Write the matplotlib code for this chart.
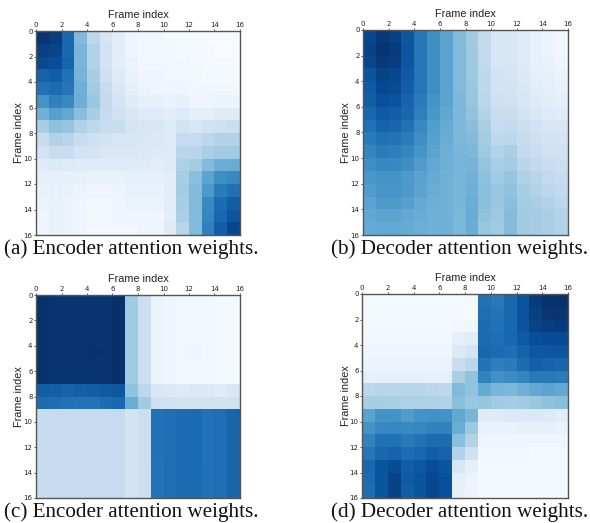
import numpy as np
import matplotlib
matplotlib.use("Agg")
import matplotlib.pyplot as plt
from matplotlib.colors import PowerNorm

W, H = 590, 523

# attention weights, in percent of the colour scale
enc_a = [
    [98, 94, 76, 40, 24, 14, 8, 3, 2, 2, 1, 1, 1, 0, 0, 0],
    [93, 91, 76, 42, 27, 15, 8, 3, 2, 2, 2, 1, 1, 1, 0, 0],
    [89, 87, 77, 42, 27, 15, 8, 4, 2, 2, 2, 2, 1, 1, 1, 1],
    [78, 80, 72, 43, 30, 17, 10, 5, 3, 3, 2, 2, 2, 1, 1, 1],
    [72, 75, 70, 45, 32, 20, 12, 7, 4, 3, 3, 3, 2, 2, 2, 2],
    [58, 66, 62, 45, 34, 22, 14, 9, 7, 6, 5, 6, 3, 3, 4, 4],
    [44, 52, 48, 38, 30, 21, 16, 12, 10, 9, 8, 10, 7, 7, 9, 9],
    [30, 37, 35, 27, 23, 19, 19, 14, 13, 12, 10, 15, 13, 16, 17, 18],
    [20, 27, 25, 19, 17, 15, 13, 13, 12, 11, 10, 21, 21, 24, 27, 27],
    [15, 20, 19, 15, 14, 12, 12, 12, 11, 10, 10, 25, 25, 29, 32, 32],
    [9, 11, 10, 9, 9, 9, 9, 9, 9, 8, 9, 28, 31, 40, 46, 46],
    [6, 7, 6, 6, 5, 5, 5, 6, 6, 6, 8, 30, 38, 50, 60, 62],
    [5, 6, 5, 4, 3, 3, 4, 5, 5, 5, 8, 31, 40, 55, 68, 72],
    [4, 5, 4, 3, 2, 2, 3, 4, 4, 4, 8, 30, 40, 62, 74, 80],
    [3, 5, 4, 3, 2, 2, 3, 3, 3, 3, 8, 29, 40, 64, 76, 84],
    [3, 5, 4, 3, 2, 2, 2, 2, 3, 3, 9, 25, 40, 66, 80, 90],
]
dec_b = [
    [90, 96, 93, 83, 70, 60, 50, 40, 32, 22, 13, 13, 10, 6, 4, 2],
    [92, 98, 95, 84, 70, 60, 50, 40, 33, 22, 13, 13, 10, 6, 4, 2],
    [90, 96, 94, 83, 70, 60, 50, 40, 33, 22, 13, 13, 10, 6, 5, 3],
    [84, 92, 90, 82, 70, 60, 50, 40, 33, 23, 15, 14, 11, 7, 6, 4],
    [82, 90, 88, 80, 70, 60, 50, 40, 34, 23, 15, 15, 12, 8, 7, 5],
    [80, 86, 85, 78, 68, 58, 50, 41, 35, 24, 17, 16, 13, 10, 8, 7],
    [76, 82, 80, 76, 66, 56, 49, 41, 36, 26, 19, 19, 15, 12, 10, 9],
    [72, 78, 77, 72, 62, 53, 47, 41, 38, 29, 21, 22, 18, 15, 13, 12],
    [68, 72, 71, 68, 60, 52, 46, 41, 40, 31, 23, 24, 20, 17, 15, 14],
    [64, 68, 67, 64, 57, 50, 45, 42, 41, 33, 26, 29, 22, 19, 17, 16],
    [60, 63, 62, 60, 54, 48, 45, 42, 43, 35, 29, 31, 25, 22, 19, 18],
    [56, 58, 58, 55, 51, 47, 44, 42, 44, 37, 32, 35, 28, 25, 22, 20],
    [54, 57, 57, 55, 50, 46, 44, 42, 45, 38, 34, 36, 30, 27, 24, 22],
    [50, 55, 55, 52, 47, 45, 44, 42, 46, 38, 34, 38, 31, 29, 27, 24],
    [48, 50, 50, 48, 46, 44, 44, 41, 46, 36, 33, 39, 32, 31, 29, 26],
    [47, 48, 48, 47, 45, 44, 44, 41, 46, 34, 32, 39, 32, 31, 29, 27],
]
enc_c = [
    [99, 98, 98, 98, 98, 98, 100, 32, 18, 4, 3, 2, 2, 2, 1, 1],
    [99, 98, 98, 98, 98, 98, 100, 32, 18, 4, 3, 2, 2, 2, 1, 1],
    [99, 98, 98, 98, 98, 98, 100, 32, 18, 4, 3, 2, 2, 2, 1, 1],
    [99, 98, 98, 98, 98, 98, 100, 32, 18, 4, 3, 2, 2, 2, 1, 1],
    [99, 98, 98, 98, 99, 98, 100, 32, 18, 4, 3, 2, 3, 2, 1, 1],
    [99, 98, 98, 98, 98, 98, 100, 32, 18, 4, 3, 2, 2, 2, 1, 1],
    [99, 98, 98, 98, 98, 98, 100, 32, 18, 4, 3, 2, 2, 2, 1, 1],
    [80, 79, 78, 79, 80, 82, 83, 36, 24, 12, 11, 10, 11, 11, 10, 12],
    [74, 73, 72, 71, 71, 74, 76, 46, 32, 17, 16, 15, 15, 16, 16, 16],
    [20, 21, 21, 21, 21, 21, 21, 15, 18, 72, 73, 74, 75, 72, 73, 77],
    [20, 21, 21, 21, 21, 21, 21, 15, 18, 72, 73, 74, 75, 72, 73, 77],
    [20, 21, 21, 21, 21, 21, 21, 15, 18, 72, 73, 74, 75, 72, 73, 77],
    [20, 21, 21, 21, 21, 21, 21, 15, 18, 72, 73, 74, 75, 72, 73, 77],
    [20, 21, 21, 21, 21, 21, 21, 15, 18, 71, 73, 74, 74, 72, 73, 77],
    [20, 21, 21, 21, 21, 21, 21, 15, 18, 71, 73, 74, 74, 72, 73, 77],
    [20, 21, 21, 21, 21, 21, 21, 15, 18, 71, 73, 74, 74, 72, 73, 77],
]
dec_d = [
    [1, 1, 1, 1, 1, 1, 1, 1, 1, 72, 69, 76, 84, 95, 99, 100],
    [1, 1, 1, 1, 1, 1, 1, 1, 1, 73, 71, 76, 84, 93, 97, 98],
    [1, 1, 1, 1, 1, 1, 1, 2, 2, 74, 72, 76, 84, 92, 94, 95],
    [2, 2, 2, 2, 2, 2, 2, 6, 8, 75, 73, 76, 82, 87, 88, 88],
    [3, 3, 3, 3, 3, 3, 3, 11, 14, 76, 75, 73, 78, 83, 83, 84],
    [4, 4, 4, 4, 4, 4, 4, 19, 24, 71, 67, 68, 74, 79, 78, 77],
    [7, 7, 7, 7, 7, 7, 7, 30, 36, 65, 59, 61, 64, 69, 69, 68],
    [24, 25, 25, 25, 25, 24, 23, 40, 36, 47, 42, 41, 44, 48, 50, 48],
    [30, 30, 29, 28, 28, 28, 27, 38, 34, 35, 32, 31, 32, 34, 37, 38],
    [50, 58, 58, 54, 58, 59, 58, 48, 42, 9, 9, 11, 11, 11, 10, 8],
    [58, 62, 63, 62, 63, 65, 65, 46, 33, 5, 5, 5, 6, 6, 6, 5],
    [65, 72, 72, 69, 71, 74, 74, 38, 27, 3, 3, 3, 3, 3, 3, 3],
    [70, 76, 78, 74, 76, 80, 78, 27, 17, 2, 2, 2, 2, 1, 1, 1],
    [76, 84, 88, 80, 83, 88, 84, 13, 7, 1, 1, 1, 1, 1, 1, 1],
    [75, 84, 92, 82, 84, 90, 86, 7, 4, 1, 1, 1, 1, 1, 1, 1],
    [74, 84, 92, 80, 84, 90, 86, 6, 4, 1, 1, 1, 1, 1, 1, 1],
]

captions = ["(a) Encoder attention weights.", "(b) Decoder attention weights.",
            "(c) Encoder attention weights.", "(d) Decoder attention weights."]
ticks = list(range(0, 17, 2))

# left, right, top, bottom in pixels of the image
boxes = [(36, 240, 31, 235), (363, 568, 30, 235), (36, 240, 295, 498), (362, 568, 294, 498)]
cap_pos = [(4, 249), (331, 249), (4, 512), (331, 512)]
ylabel_x = [23.5, 351, 23.5, 351]

fig = plt.figure(figsize=(W / 100, H / 100), dpi=100)
norm = PowerNorm(gamma=0.88, vmin=0, vmax=1)

for mat, cap, box, cp, yx in zip([enc_a, dec_b, enc_c, dec_d], captions, boxes, cap_pos, ylabel_x):
    l, r, t, b = box
    ax = fig.add_axes([l / W, 1 - b / H, (r - l) / W, (b - t) / H])
    ax.pcolormesh(np.arange(17), np.arange(17), np.array(mat) / 100, cmap="Blues", norm=norm)
    ax.set_xlim(0, 16)
    ax.set_ylim(16, 0)
    ax.xaxis.tick_top()
    ax.xaxis.set_label_position("top")
    ax.set_xticks(ticks)
    ax.set_yticks(ticks)
    ax.tick_params(labelsize=5, length=1.5, width=0.5, pad=1, colors="#222222")
    ax.set_xlabel("Frame index", family="Liberation Sans", fontsize=7.8, labelpad=2.5, color="#222222")
    ax.set_ylabel("Frame index", family="Liberation Sans", fontsize=7.8, color="#222222")
    ax.yaxis.set_label_coords((yx - l) / (r - l), 0.5)
    for spine in ax.spines.values():
        spine.set_linewidth(1)
        spine.set_color("#555555")
    fig.text(cp[0] / W, 1 - cp[1] / H, cap, family="Liberation Serif", fontsize=15.2,
             color="#111111", va="center", ha="left")

fig.savefig("out.png", dpi=100)
